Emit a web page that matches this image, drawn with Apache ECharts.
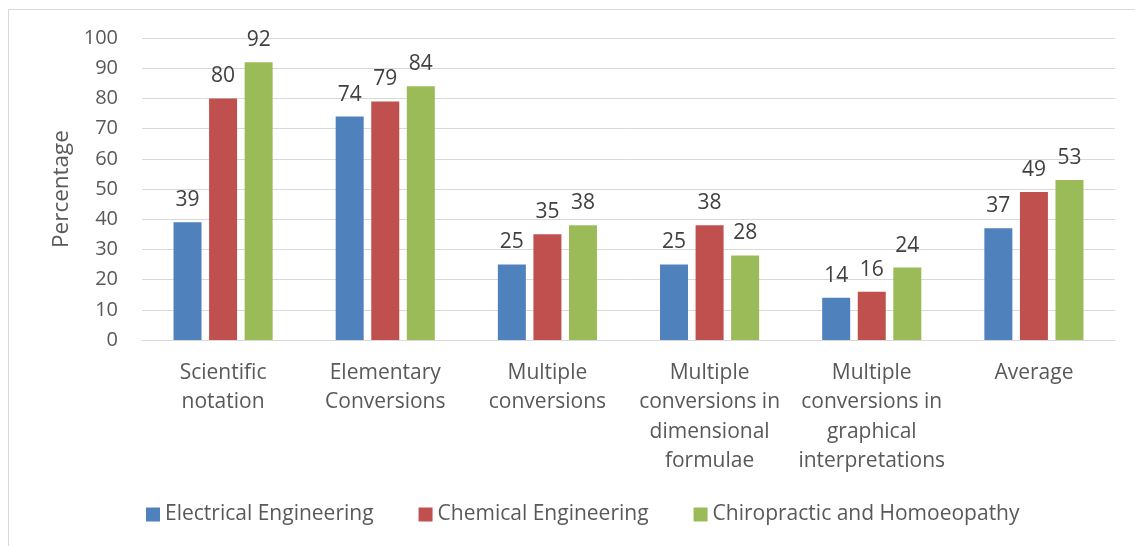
<!DOCTYPE html>
<html><head><meta charset="utf-8">
<script src="https://cdn.jsdelivr.net/npm/echarts@6/dist/echarts.min.js"></script>
<style>html,body{margin:0;padding:0;background:#fff}#c{width:1135px;height:546px}</style>
</head><body><div id="c"></div>
<script>
const categories = ["Scientific\nnotation", "Elementary\nConversions", "Multiple\nconversions", "Multiple\nconversions in\ndimensional\nformulae", "Multiple\nconversions in\ngraphical\ninterpretations", "Average"];
const electrical = [39, 74, 25, 25, 14, 37];
const chemical = [80, 79, 35, 38, 16, 49];
const chiropractic = [92, 84, 38, 28, 24, 53];
const seriesNames = ["Electrical Engineering", "Chemical Engineering", "Chiropractic and Homoeopathy"];
const colors = ["#4f81bd", "#c0504d", "#9bbb59"];
const FONT = "Open Sans";
const chart = echarts.init(document.getElementById('c'));
const mk = (name, data, color) => ({
  name, type: 'bar', data, barWidth: 28, barGap: '27%',
  itemStyle: {color},
  label: {show: true, position: 'top', distance: 11.5, color: '#404040', fontSize: 21, fontFamily: FONT}
});
chart.setOption({
  animation: false,
  color: colors,
  graphic: [{type: 'rect', shape: {x: 8.5, y: 9.5, width: 1200, height: 600}, style: {fill: 'none', stroke: '#d9d9d9', lineWidth: 1}, silent: true}],
  grid: {left: 142, right: 20, top: 38, bottom: 206},
  legend: {
    top: 499, left: 141, itemWidth: 14, itemHeight: 14, itemGap: 45, icon: 'rect',
    textStyle: {color: '#595959', fontSize: 21, fontFamily: FONT},
    data: seriesNames
  },
  xAxis: {
    type: 'category', data: categories,
    axisLine: {lineStyle: {color: '#d9d9d9', width: 1}},
    axisTick: {show: false},
    axisLabel: {color: '#595959', fontSize: 21, fontFamily: FONT, lineHeight: 29.5, margin: 18, interval: 0}
  },
  yAxis: {
    type: 'value', min: 0, max: 100, interval: 10,
    name: 'Percentage', nameLocation: 'middle', nameGap: 68, nameRotate: 90,
    nameTextStyle: {color: '#595959', fontSize: 22.5, fontFamily: FONT},
    axisLine: {show: false}, axisTick: {show: false},
    axisLabel: {color: '#595959', fontSize: 20, fontFamily: FONT, margin: 24},
    splitLine: {lineStyle: {color: '#d9d9d9', width: 1}}
  },
  series: [mk(seriesNames[0], electrical, colors[0]), mk(seriesNames[1], chemical, colors[1]), mk(seriesNames[2], chiropractic, colors[2])]
});
</script></body></html>
